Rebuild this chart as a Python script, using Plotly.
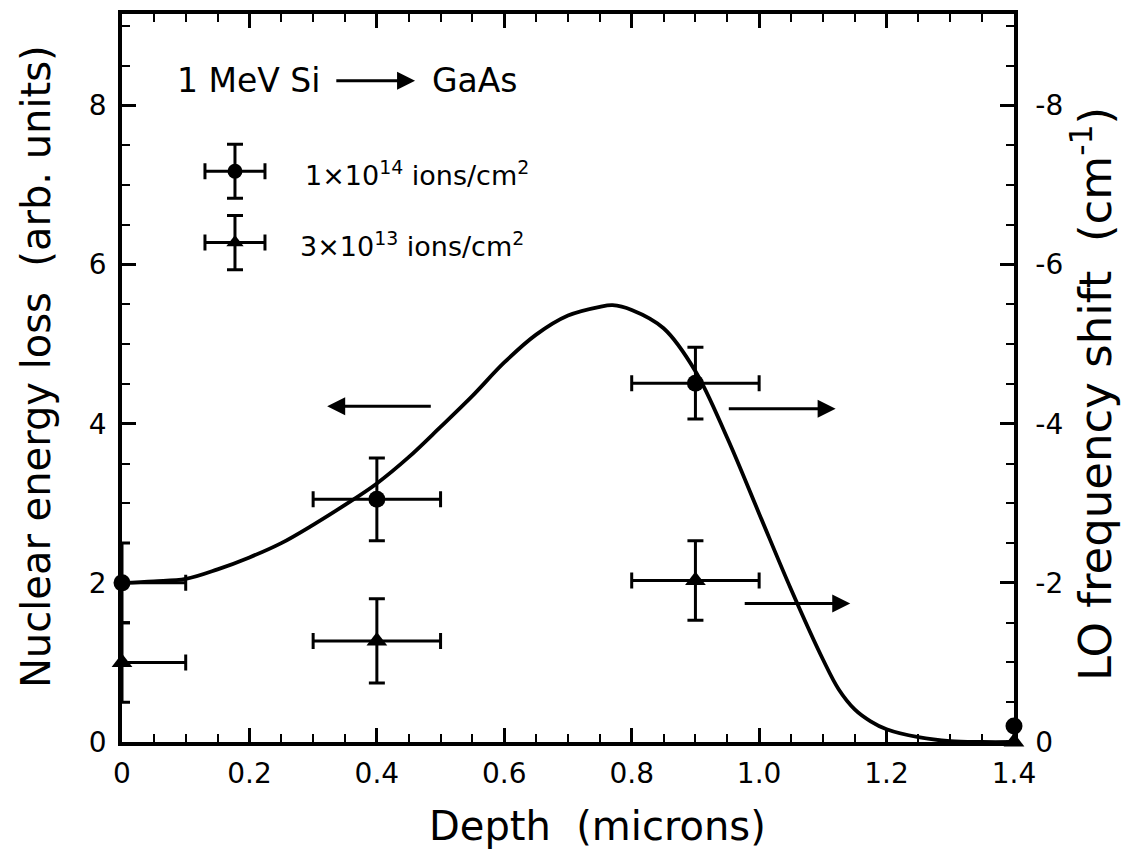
import plotly.graph_objects as go

# ---------------- data ----------------
# Calculated nuclear energy loss profile (left axis, arb. units)
curve_depth = [0.0, 0.05, 0.1, 0.15, 0.2, 0.25, 0.3, 0.35, 0.4, 0.45, 0.5, 0.55, 0.6,
               0.65, 0.7, 0.75, 0.77, 0.8, 0.85, 0.9, 0.95, 1.0, 1.05, 1.1, 1.125, 1.15,
               1.175, 1.2, 1.25, 1.3, 1.35, 1.4]
curve_loss = [2.0, 2.02, 2.05, 2.17, 2.32, 2.5, 2.73, 2.98, 3.25, 3.58, 3.96, 4.35, 4.77,
              5.12, 5.36, 5.47, 5.49, 5.43, 5.2, 4.66, 3.82, 2.87, 1.92, 1.04, 0.66, 0.41,
              0.26, 0.16, 0.06, 0.01, 0.0, 0.0]

# LO frequency shift (right axis, cm^-1)
depth_1e14 = [0.0, 0.4, 0.9, 1.4]
shift_1e14 = [-2.0, -3.05, -4.51, -0.2]
shift_1e14_err = [0.5, 0.52, 0.45, 0.0]
depth_1e14_err = [0.1, 0.1, 0.1, 0.0]

depth_3e13 = [0.0, 0.4, 0.9, 1.4]
shift_3e13 = [-1.0, -1.27, -2.03, 0.0]
shift_3e13_err = [0.5, 0.53, 0.5, 0.0]
depth_3e13_err = [0.1, 0.1, 0.1, 0.0]

x_ticks = [0, 0.2, 0.4, 0.6, 0.8, 1.0, 1.2, 1.4]
x_ticktext = ["0", "0.2", "0.4", "0.6", "0.8", "1.0", "1.2", "1.4"]
yl_ticks = [0, 2, 4, 6, 8]
yl_ticktext = ["0", "2", "4", "6", "8"]
yr_ticks = [0, -2, -4, -6, -8]
yr_ticktext = ["0", "-2", "-4", "-6", "-8"]

legend_names = ["1\u00d710<sup>14</sup> ions/cm<sup>2</sup>",
                "3\u00d710<sup>13</sup> ions/cm<sup>2</sup>"]
legend_symbols = ["circle", "triangle-up"]
legend_rows = [1, 0]
legend_text_x = [0.203, 0.1976]
legend_text_y = [0.781, 0.683]

FONT = "DejaVu Sans"
BLACK = "black"

fig = go.Figure()

fig.add_trace(go.Scatter(
    x=curve_depth, y=curve_loss, mode="lines",
    line=dict(color=BLACK, width=3.8, shape="spline", smoothing=1.0),
    xaxis="x", yaxis="y", showlegend=False, hoverinfo="skip"))

def err(arr):
    return dict(type="data", array=arr, visible=True, color=BLACK, thickness=3, width=8)

fig.add_trace(go.Scatter(
    x=depth_1e14, y=shift_1e14, mode="markers",
    marker=dict(symbol="circle", size=17, color=BLACK),
    error_y=err(shift_1e14_err), error_x=err(depth_1e14_err),
    xaxis="x", yaxis="y2", cliponaxis=False, showlegend=False))

fig.add_trace(go.Scatter(
    x=depth_3e13, y=shift_3e13, mode="markers",
    marker=dict(symbol="triangle-up", size=18, color=BLACK),
    error_y=err(shift_3e13_err), error_x=err(depth_3e13_err),
    xaxis="x", yaxis="y2", cliponaxis=False, showlegend=False))

# legend keys (drawn on a hidden helper axis)
for row, sym in zip(legend_rows, legend_symbols):
    fig.add_trace(go.Scatter(
        x=[0], y=[row], mode="markers",
        marker=dict(symbol=sym, size=15, color=BLACK),
        error_y=dict(type="constant", value=0.38, color=BLACK, thickness=3, width=8),
        error_x=dict(type="constant", value=0.75, color=BLACK, thickness=3, width=8),
        xaxis="x3", yaxis="y3", cliponaxis=False, showlegend=False, hoverinfo="skip"))

tickfont = dict(family=FONT, size=28, color=BLACK)

fig.update_layout(
    width=1124, height=856,
    margin=dict(l=122, r=110, t=10, b=114),
    paper_bgcolor="white", plot_bgcolor="white",
    font=dict(family=FONT, color=BLACK),
    xaxis=dict(range=[0, 1.4], tickmode="array", tickvals=x_ticks, ticktext=x_ticktext,
               ticks="inside", ticklen=14, tickwidth=2.5, tickcolor=BLACK,
               minor=dict(dtick=0.05, tick0=0, ticks="inside", ticklen=8, tickwidth=2, tickcolor=BLACK),
               showline=True, linewidth=3.5, linecolor=BLACK, mirror="ticks",
               showgrid=False, zeroline=False, tickfont=tickfont, ticklabelstandoff=4),
    yaxis=dict(range=[0, 9.15], tickmode="array", tickvals=yl_ticks, ticktext=yl_ticktext,
               ticks="inside", ticklen=14, tickwidth=2.5, tickcolor=BLACK,
               minor=dict(dtick=0.5, tick0=0, ticks="inside", ticklen=8, tickwidth=2, tickcolor=BLACK),
               showline=True, linewidth=3.5, linecolor=BLACK,
               showgrid=False, zeroline=False, tickfont=tickfont, ticklabelstandoff=6),
    yaxis2=dict(range=[0, -9.15], overlaying="y", side="right", anchor="x",
                tickmode="array", tickvals=yr_ticks, ticktext=yr_ticktext,
                ticks="inside", ticklen=14, tickwidth=2.5, tickcolor=BLACK,
                minor=dict(dtick=0.5, tick0=0, ticks="inside", ticklen=8, tickwidth=2, tickcolor=BLACK),
                showline=True, linewidth=3.5, linecolor=BLACK,
                showgrid=False, zeroline=False, tickfont=tickfont, ticklabelstandoff=12),
    xaxis3=dict(domain=[0.0818, 0.1715], range=[-1, 1], visible=False, anchor="y3", fixedrange=True),
    yaxis3=dict(domain=[0.637, 0.833], range=[-0.5, 1.5], visible=False, anchor="x3", fixedrange=True),
)

ann = []
# axis titles
ann.append(dict(text="Depth\u00a0 (microns)", x=0.533, y=-0.115, xref="paper", yref="paper",
                xanchor="center", yanchor="middle", showarrow=False,
                font=dict(family=FONT, size=40, color=BLACK)))
ann.append(dict(text="Nuclear energy loss\u00a0 (arb. units)", x=-0.0964, y=0.515,
                xref="paper", yref="paper", xanchor="center", yanchor="middle",
                textangle=-90, showarrow=False, font=dict(family=FONT, size=40, color=BLACK)))
ann.append(dict(text="LO frequency shift\u00a0 (cm<sup>-1</sup>)", x=1.0874, y=0.478,
                xref="paper", yref="paper", xanchor="center", yanchor="middle",
                textangle=-90, showarrow=False, font=dict(family=FONT, size=45, color=BLACK)))
# title annotation
ann.append(dict(text="1 MeV Si", x=0.314, y=8.31, xref="x", yref="y", xanchor="right",
                yanchor="middle", showarrow=False, font=dict(family=FONT, size=33, color=BLACK)))
ann.append(dict(text="GaAs", x=0.483, y=8.31, xref="x", yref="y", xanchor="left",
                yanchor="middle", showarrow=False, font=dict(family=FONT, size=33, color=BLACK)))
ann.append(dict(text="", x=0.46, y=8.31, ax=0.334, ay=8.31, xref="x", yref="y",
                axref="x", ayref="y", showarrow=True, arrowhead=2, arrowsize=1.2,
                arrowwidth=3, arrowcolor=BLACK))
# axis arrows
ann.append(dict(text="", x=0.322, y=4.22, ax=0.487, ay=4.22, xref="x", yref="y",
                axref="x", ayref="y", showarrow=True, arrowhead=2, arrowsize=1.2,
                arrowwidth=3, arrowcolor=BLACK))
ann.append(dict(text="", x=1.12, y=4.19, ax=0.95, ay=4.19, xref="x", yref="y",
                axref="x", ayref="y", showarrow=True, arrowhead=2, arrowsize=1.2,
                arrowwidth=3, arrowcolor=BLACK))
ann.append(dict(text="", x=1.143, y=1.74, ax=0.975, ay=1.74, xref="x", yref="y",
                axref="x", ayref="y", showarrow=True, arrowhead=2, arrowsize=1.2,
                arrowwidth=3, arrowcolor=BLACK))
# legend texts
for tx, ty, name in zip(legend_text_x, legend_text_y, legend_names):
    ann.append(dict(text=name, x=tx, y=ty, xref="paper", yref="paper", xanchor="left",
                    yanchor="middle", showarrow=False,
                    font=dict(family=FONT, size=27, color=BLACK)))

fig.update_layout(annotations=ann)

fig.write_html("out.html")
